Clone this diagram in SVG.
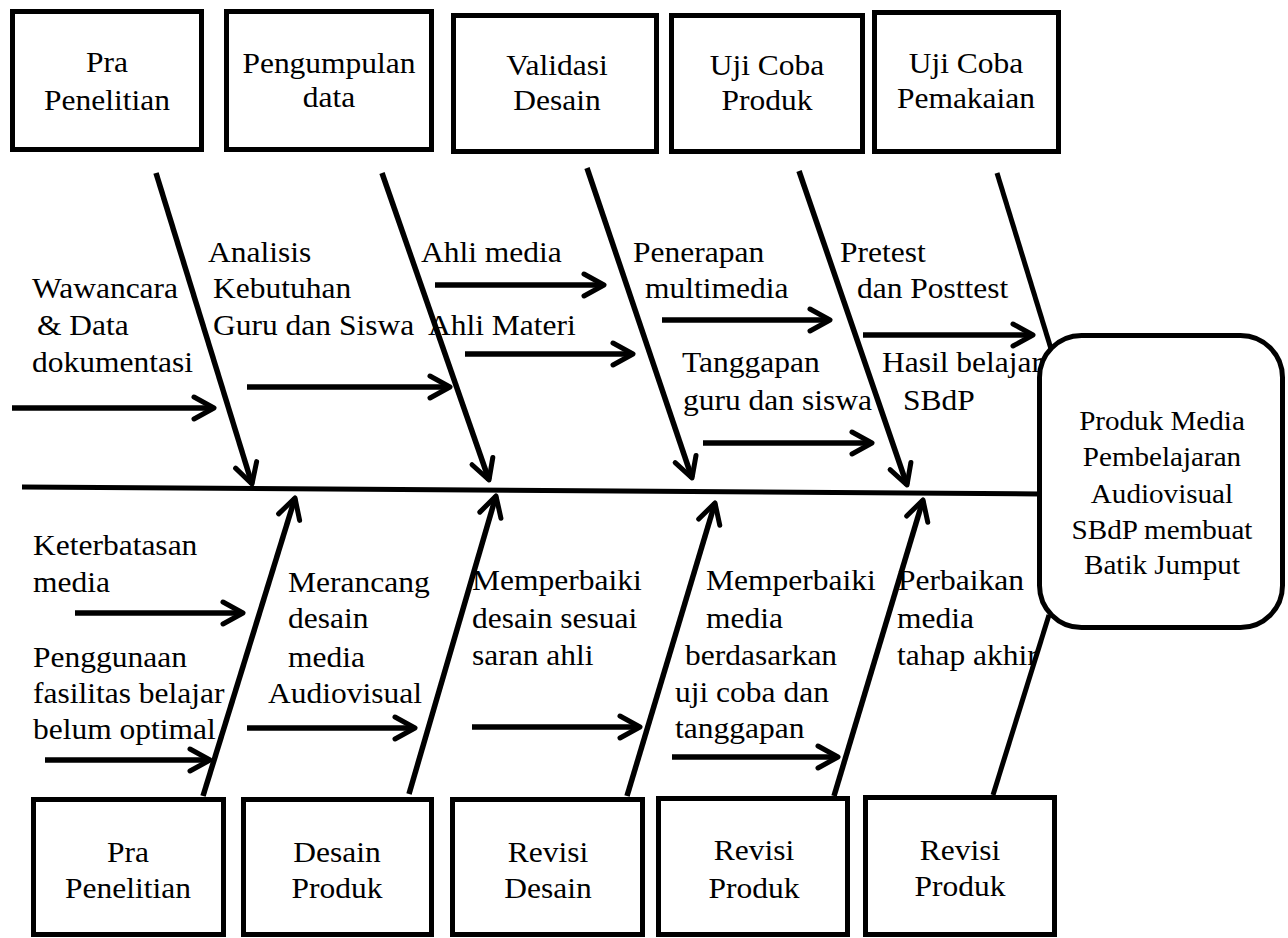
<svg xmlns="http://www.w3.org/2000/svg" width="1288" height="938" viewBox="0 0 1288 938">
<style>
  text { font-family: "Liberation Serif", "Times New Roman", serif; font-size: 30px; fill: #000; transform-box: fill-box; transform: scaleX(1.05); }
  text.l { text-anchor: start; transform-origin: left center; }
  text.c { text-anchor: middle; transform-origin: center; }
  text.s { font-size: 28px; transform: scaleX(1.04); }
  .box { fill: #fff; stroke: #000; stroke-width: 5; }
  .ln { fill: none; stroke: #000; stroke-width: 5; }
  .ar { fill: none; stroke: #000; stroke-width: 5.5; marker-end: url(#head); }
</style>
<defs>
  <marker id="head" viewBox="-26 -16 30 32" markerWidth="30" markerHeight="32" refX="0" refY="0" markerUnits="userSpaceOnUse" orient="auto">
    <path d="M-20,-11 L0,0 L-20,11" fill="none" stroke="#000" stroke-width="5" stroke-linecap="round" stroke-linejoin="round"/>
  </marker>
</defs>
<rect width="1288" height="938" fill="#fff"/>

<g id="connectors">
  <path class="ln" d="M22,487 L1040,494"/>
  <!-- upper diagonals -->
  <path class="ar" d="M156,173 L252,484"/>
  <path class="ar" d="M382,173 L489,480"/>
  <path class="ar" d="M587,168 L692,478"/>
  <path class="ar" d="M799,171 L907,485"/>
  <path class="ln" d="M997,173 L1052,352"/>
  <!-- lower diagonals -->
  <path class="ar" d="M203,796 L295,498"/>
  <path class="ar" d="M409,794 L496,496"/>
  <path class="ar" d="M627,796 L715,503"/>
  <path class="ar" d="M834,796 L923,500"/>
  <path class="ln" d="M993,795 L1049,615"/>
  <!-- horizontal arrows -->
  <path class="ar" d="M12,408 L214,408"/>
  <path class="ar" d="M247,387 L450,387"/>
  <path class="ar" d="M435,285 L604,285"/>
  <path class="ar" d="M465,354 L633,354"/>
  <path class="ar" d="M662,320 L830,320"/>
  <path class="ar" d="M863,335 L1033,335"/>
  <path class="ar" d="M703,443 L872,443"/>
  <path class="ar" d="M75,613 L243,613"/>
  <path class="ar" d="M45,760 L210,760"/>
  <path class="ar" d="M247,728 L415,728"/>
  <path class="ar" d="M472,727 L640,727"/>
  <path class="ar" d="M672,757 L838,757"/>
</g>

<g id="labels">
  <text class="l" x="32" y="298">Wawancara</text>
  <text class="l" x="37" y="335">&amp; Data</text>
  <text class="l" x="32" y="372">dokumentasi</text>
  <text class="l" x="208" y="262">Analisis</text>
  <text class="l" x="213" y="298">Kebutuhan</text>
  <text class="l" x="213" y="335">Guru dan Siswa</text>
  <text class="l" x="421" y="262">Ahli media</text>
  <text class="l" x="428" y="335">Ahli Materi</text>
  <text class="l" x="633" y="262">Penerapan</text>
  <text class="l" x="645" y="298">multimedia</text>
  <text class="l" x="682" y="372">Tanggapan</text>
  <text class="l" x="683" y="410">guru dan siswa</text>
  <text class="l" x="840" y="262">Pretest</text>
  <text class="l" x="857" y="298">dan Posttest</text>
  <text class="l" x="882" y="372">Hasil belajar</text>
  <text class="l" x="903" y="410">SBdP</text>

  <text class="l" x="33" y="555">Keterbatasan</text>
  <text class="l" x="33" y="592">media</text>
  <text class="l" x="33" y="667">Penggunaan</text>
  <text class="l" x="33" y="703">fasilitas belajar</text>
  <text class="l" x="33" y="739">belum optimal</text>
  <text class="l" x="288" y="592">Merancang</text>
  <text class="l" x="288" y="628">desain</text>
  <text class="l" x="288" y="667">media</text>
  <text class="l" x="268" y="703">Audiovisual</text>
  <text class="l" x="472" y="590">Memperbaiki</text>
  <text class="l" x="472" y="628">desain sesuai</text>
  <text class="l" x="472" y="665">saran ahli</text>
  <text class="l" x="706" y="590">Memperbaiki</text>
  <text class="l" x="706" y="628">media</text>
  <text class="l" x="685" y="665">berdasarkan</text>
  <text class="l" x="675" y="702">uji coba dan</text>
  <text class="l" x="675" y="738">tanggapan</text>
  <text class="l" x="898" y="590">Perbaikan</text>
  <text class="l" x="897" y="628">media</text>
  <text class="l" x="897" y="665">tahap akhir</text>
</g>

<g id="top-pra-penelitian">
  <rect class="box" x="12.5" y="11.5" width="189" height="138"/>
  <text class="c" x="107" y="72">Pra</text>
  <text class="c" x="107" y="110">Penelitian</text>
</g>
<g id="top-pengumpulan-data">
  <rect class="box" x="226.5" y="11.5" width="205" height="138"/>
  <text class="c" x="329" y="73">Pengumpulan</text>
  <text class="c" x="329" y="107">data</text>
</g>
<g id="top-validasi-desain">
  <rect class="box" x="453.5" y="15.5" width="203" height="136"/>
  <text class="c" x="557" y="75">Validasi</text>
  <text class="c" x="557" y="110">Desain</text>
</g>
<g id="top-uji-coba-produk">
  <rect class="box" x="671.5" y="15.5" width="191" height="136"/>
  <text class="c" x="767" y="75">Uji Coba</text>
  <text class="c" x="767" y="110">Produk</text>
</g>
<g id="top-uji-coba-pemakaian">
  <rect class="box" x="874.5" y="12.5" width="184" height="139"/>
  <text class="c" x="966" y="73">Uji Coba</text>
  <text class="c" x="966" y="108">Pemakaian</text>
</g>

<g id="bottom-pra-penelitian">
  <rect class="box" x="33.5" y="799.5" width="190" height="135"/>
  <text class="c" x="128" y="862">Pra</text>
  <text class="c" x="128" y="898">Penelitian</text>
</g>
<g id="bottom-desain-produk">
  <rect class="box" x="243.5" y="799.5" width="188" height="135"/>
  <text class="c" x="337" y="862">Desain</text>
  <text class="c" x="337" y="898">Produk</text>
</g>
<g id="bottom-revisi-desain">
  <rect class="box" x="452.5" y="799.5" width="190" height="135"/>
  <text class="c" x="548" y="862">Revisi</text>
  <text class="c" x="548" y="898">Desain</text>
</g>
<g id="bottom-revisi-produk-1">
  <rect class="box" x="658.5" y="798.5" width="189" height="136"/>
  <text class="c" x="754" y="860">Revisi</text>
  <text class="c" x="754" y="898">Produk</text>
</g>
<g id="bottom-revisi-produk-2">
  <rect class="box" x="865.5" y="797.5" width="189" height="137"/>
  <text class="c" x="960" y="860">Revisi</text>
  <text class="c" x="960" y="896">Produk</text>
</g>

<g id="produk-media">
  <rect class="box" x="1039.5" y="335.5" width="243" height="292" rx="42" ry="42"/>
  <text class="c s" x="1162" y="430">Produk Media</text>
  <text class="c s" x="1162" y="466">Pembelajaran</text>
  <text class="c s" x="1162" y="503">Audiovisual</text>
  <text class="c s" x="1162" y="539">SBdP membuat</text>
  <text class="c s" x="1162" y="574">Batik Jumput</text>
</g>
</svg>
